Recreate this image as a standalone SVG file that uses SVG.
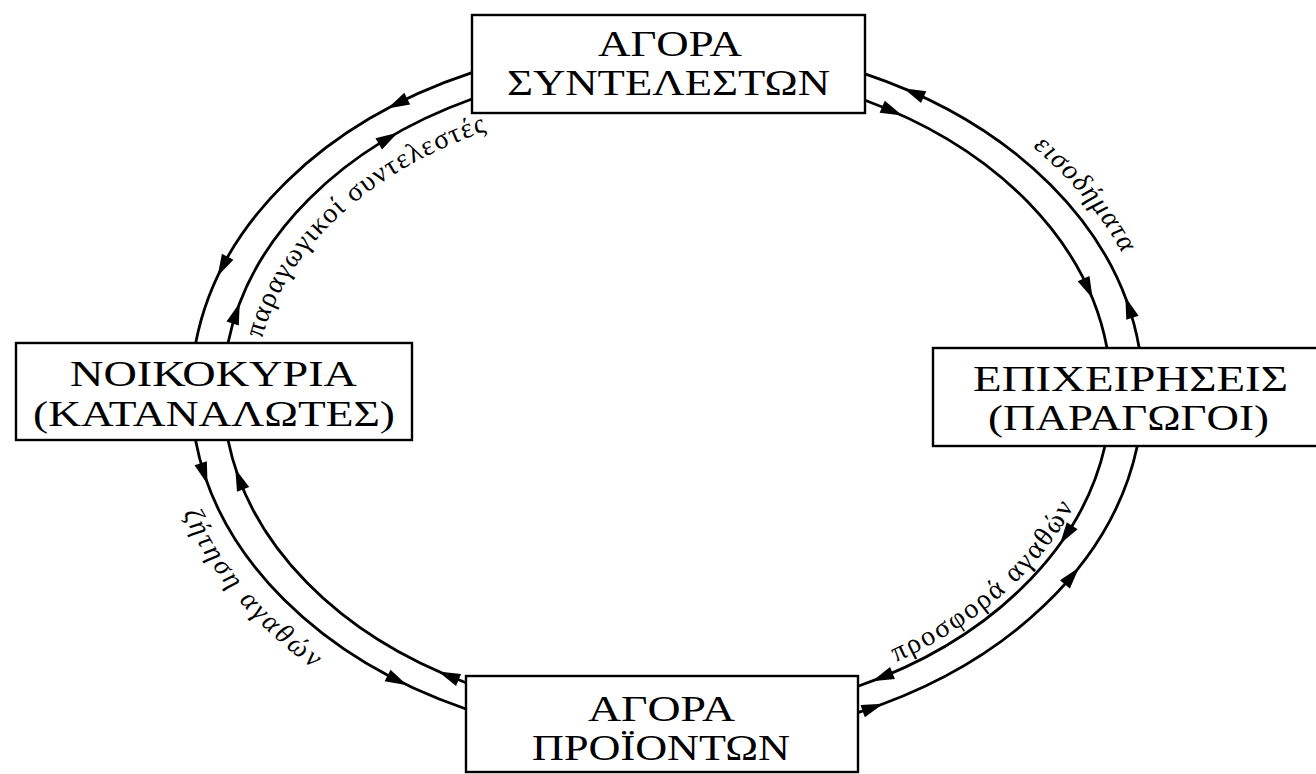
<svg xmlns="http://www.w3.org/2000/svg" xmlns:xlink="http://www.w3.org/1999/xlink" width="1316" height="774" viewBox="0 0 1316 774">
<style>
.box{fill:#fff;stroke:#000;stroke-width:2.4}
.nt{font-family:"Liberation Serif","Times New Roman",serif;font-size:36px;fill:#000;text-anchor:middle}
.arc{fill:none;stroke:#000;stroke-width:2.8}
.ah{fill:#000}
.lbl{font-family:"Liberation Serif","Times New Roman",serif;font-size:28px;fill:#000}
.it{font-style:italic}
</style>
<defs>
<path id="ah" d="M11,0 L-11,-6.5 L-11,6.5 Z"/>
<path id="p1" d="M 262.2 338.6 A 408 290 0 0 1 489.8 130"/>
<path id="p2" d="M 1032.6 147.1 A 492 366 0 0 1 1148.2 315.9"/>
<path id="p3" d="M 896 662 A 436 318 0 0 0 1081.7 490.3"/>
<path id="p4" d="M 183.1 513.2 A 510 384 0 0 0 323.1 675.6"/>
</defs>
<rect width="1316" height="774" fill="#fff"/>
<g id="connectors">
<path class="arc" d="M 472 72.7 A 476 350 0 0 0 195.7 343"/>
<path class="arc" d="M 195.5 440 A 476 350 0 0 0 466 709"/>
<path class="arc" d="M 858 712.6 A 476 350 0 0 0 1137.3 446"/>
<path class="arc" d="M 1139.2 348 A 476 350 0 0 0 865 73.8"/>
<path class="arc" d="M 228 343 A 444 326 0 0 1 472 99"/>
<path class="arc" d="M 865 100.2 A 444 326 0 0 1 1107 348"/>
<path class="arc" d="M 1105 446 A 444 326 0 0 1 858 686.3"/>
<path class="arc" d="M 466 682.7 A 444 326 0 0 1 228 440"/>
<use href="#ah" class="ah" transform="translate(397.4,103.6) rotate(153.2)"/>
<use href="#ah" class="ah" transform="translate(222.6,266.6) rotate(117.6)"/>
<use href="#ah" class="ah" transform="translate(204.1,473.7) rotate(71.9)"/>
<use href="#ah" class="ah" transform="translate(397.4,680.4) rotate(26.8)"/>
<use href="#ah" class="ah" transform="translate(873,707.4) rotate(-19.6)"/>
<use href="#ah" class="ah" transform="translate(1072,575.9) rotate(-50)"/>
<use href="#ah" class="ah" transform="translate(1128.9,307.3) rotate(-108.7)"/>
<use href="#ah" class="ah" transform="translate(913.6,92.6) rotate(-156)"/>
<use href="#ah" class="ah" transform="translate(236.2,313.1) rotate(-71.2)"/>
<use href="#ah" class="ah" transform="translate(388.2,138.3) rotate(-30.6)"/>
<use href="#ah" class="ah" transform="translate(892.3,111.1) rotate(23.4)"/>
<use href="#ah" class="ah" transform="translate(1088.1,288.6) rotate(65.5)"/>
<use href="#ah" class="ah" transform="translate(1066.1,534.9) rotate(123.6)"/>
<use href="#ah" class="ah" transform="translate(882.3,677.1) rotate(157.9)"/>
<use href="#ah" class="ah" transform="translate(448.4,675.8) rotate(-157.4)"/>
<use href="#ah" class="ah" transform="translate(239.2,479.1) rotate(-110.7)"/>
</g>
<g id="labels">
<text class="lbl"><textPath href="#p1" textLength="318" lengthAdjust="spacing">παραγωγικοί συντελεστές</textPath></text>
<text class="lbl it"><textPath href="#p2" textLength="140" lengthAdjust="spacing">εισοδήματα</textPath></text>
<text class="lbl"><textPath href="#p3" textLength="240" lengthAdjust="spacing">προσφορά αγαθών</textPath></text>
<text class="lbl it"><textPath href="#p4" textLength="205" lengthAdjust="spacing">ζήτηση αγαθών</textPath></text>
</g>
<g id="node-factor-market">
<rect class="box" x="472" y="15" width="393" height="98"/>
<text class="nt" x="670" y="56" textLength="144" lengthAdjust="spacingAndGlyphs">ΑΓΟΡΑ</text>
<text class="nt" x="668.5" y="95" textLength="323" lengthAdjust="spacingAndGlyphs">ΣΥΝΤΕΛΕΣΤΩΝ</text>
</g>
<g id="node-households">
<rect class="box" x="16" y="343" width="396" height="97"/>
<text class="nt" x="213.5" y="386" textLength="287" lengthAdjust="spacingAndGlyphs">ΝΟΙΚΟΚΥΡΙΑ</text>
<text class="nt" x="214" y="426" textLength="362" lengthAdjust="spacingAndGlyphs">(ΚΑΤΑΝΑΛΩΤΕΣ)</text>
</g>
<g id="node-firms">
<rect class="box" x="933" y="348" width="400" height="98"/>
<text class="nt" x="1130.5" y="391" textLength="315" lengthAdjust="spacingAndGlyphs">ΕΠΙΧΕΙΡΗΣΕΙΣ</text>
<text class="nt" x="1128.5" y="430" textLength="281" lengthAdjust="spacingAndGlyphs">(ΠΑΡΑΓΩΓΟΙ)</text>
</g>
<g id="node-product-market">
<rect class="box" x="466" y="676" width="392" height="96"/>
<text class="nt" x="661.5" y="721" textLength="147" lengthAdjust="spacingAndGlyphs">ΑΓΟΡΑ</text>
<text class="nt" x="661" y="760" textLength="258" lengthAdjust="spacingAndGlyphs">ΠΡΟΪΟΝΤΩΝ</text>
</g>
</svg>
